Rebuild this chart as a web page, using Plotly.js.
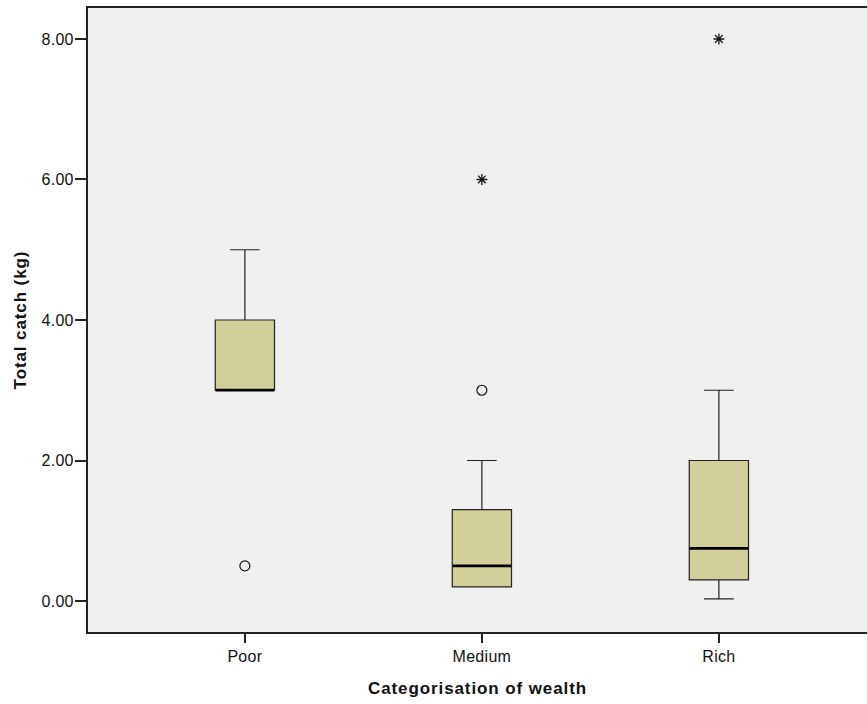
<!DOCTYPE html>
<html>
<head>
<meta charset="utf-8">
<script src="https://cdn.plot.ly/plotly-3.0.1.min.js"></script>
<style>
html,body{margin:0;padding:0;background:#fff;}
#chart{width:867px;height:704px;}
#chart .xtitle, #chart .ytitle {letter-spacing: 0.9px;}
#chart .xtick text, #chart .ytick text {letter-spacing: 0.3px;}
</style>
</head>
<body>
<div id="chart"></div>
<script>
const categories = ["Poor", "Medium", "Rich"];
const q1 = [3, 0.2, 0.3];
const medians = [3, 0.5, 0.75];
const q3 = [4, 1.3, 2];
const lowerFence = [3, 0.2, 0.03];
const upperFence = [5, 2, 3];
const outlierCat = ["Poor", "Medium"];
const outlierVal = [0.5, 3];
const extremeCat = ["Medium", "Rich"];
const extremeVal = [6, 8];
const yTicks = [0, 2, 4, 6, 8];

const boxTrace = {
  type: "box",
  x: categories,
  q1: q1, median: medians, q3: q3,
  lowerfence: lowerFence, upperfence: upperFence,
  width: 0.25,
  whiskerwidth: 0.5,
  fillcolor: "#d3cf9a",
  line: {color: "#222", width: 1.2},
  boxpoints: false,
  hoverinfo: "skip",
  showlegend: false
};
const medianTrace = {
  type: "scatter", mode: "markers",
  x: categories, y: medians,
  marker: {symbol: "line-ew", size: 42, line: {color: "#000", width: 2.6}},
  hoverinfo: "skip", showlegend: false
};
const outlierTrace = {
  type: "scatter", mode: "markers",
  x: outlierCat, y: outlierVal,
  marker: {symbol: "circle-open", size: 10, color: "#111", line: {color: "#111", width: 1.2}},
  showlegend: false
};
const extremeTrace = {
  type: "scatter", mode: "markers",
  x: extremeCat, y: extremeVal,
  marker: {symbol: "asterisk-open", size: 9, color: "#111", line: {color: "#111", width: 1.3}},
  showlegend: false
};

const layout = {
  width: 867, height: 704,
  margin: {l: 88, r: 0, t: 8, b: 72},
  paper_bgcolor: "#ffffff",
  plot_bgcolor: "#f0f0f0",
  font: {family: "Liberation Sans, Arial, sans-serif", size: 16, color: "#111"},
  showlegend: false,
  xaxis: {
    type: "category",
    categoryorder: "array", categoryarray: categories,
    range: [-0.662, 2.625],
    showgrid: false, zeroline: false,
    showline: true, linecolor: "#222", linewidth: 2, mirror: true,
    ticks: "outside", ticklen: 9, tickwidth: 2, tickcolor: "#222",
    tickfont: {size: 16, color: "#111"},
    title: {text: "<b>Categorisation of wealth</b>", font: {size: 17, color: "#111"}, standoff: 18}
  },
  yaxis: {
    range: [-0.441, 8.441],
    tickvals: yTicks,
    tickformat: ".2f",
    showgrid: false, zeroline: false,
    showline: true, linecolor: "#222", linewidth: 2,
    ticks: "outside", ticklen: 11, tickwidth: 2, tickcolor: "#222",
    ticklabelstandoff: -2,
    tickfont: {size: 16, color: "#111"},
    title: {text: "<b>Total catch (kg)</b>", font: {size: 17, color: "#111"}, standoff: 12}
  }
};

Plotly.newPlot("chart", [boxTrace, medianTrace, outlierTrace, extremeTrace], layout, {displayModeBar: false, staticPlot: true});
</script>
</body>
</html>
